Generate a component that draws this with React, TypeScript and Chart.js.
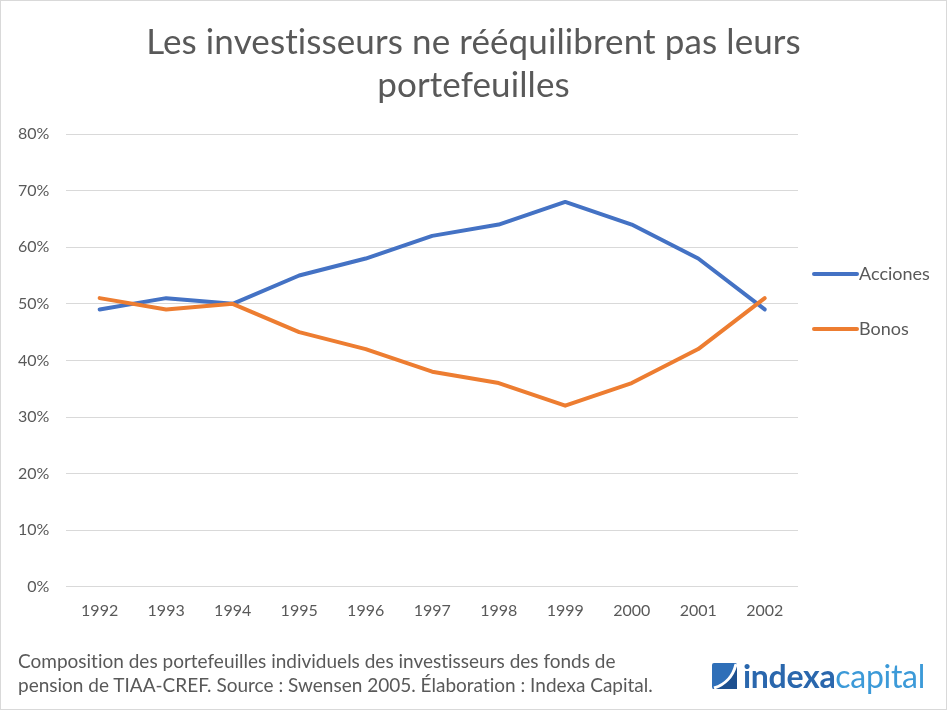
import React, { useEffect, useRef } from "react";
import { Chart, registerables } from "chart.js";

Chart.register(...registerables);

const years = ["1992", "1993", "1994", "1995", "1996", "1997", "1998", "1999", "2000", "2001", "2002"];
const acciones = [49, 51, 50, 55, 58, 62, 64, 68, 64, 58, 49];
const bonos = [51, 49, 50, 45, 42, 38, 36, 32, 36, 42, 51];
const seriesNames = ["Acciones", "Bonos"];
const seriesColors = ["#4472C4", "#ED7D31"];
const titleLines = ["Les investisseurs ne rééquilibrent pas leurs", "portefeuilles"];
const footnoteLines = [
  "Composition des portefeuilles individuels des investisseurs des fonds de",
  "pension de TIAA-CREF. Source : Swensen 2005. Élaboration : Indexa Capital.",
];

const FONT = "Lato, 'Open Sans', sans-serif";
const GREY = "#595959";

const sideLegend = {
  id: "sideLegend",
  afterDraw(chart: any) {
    const { ctx, chartArea } = chart;
    ctx.save();
    chart.data.datasets.forEach((ds: any, i: number) => {
      const y = chartArea.top + 140 + i * 55;
      const x0 = chartArea.right + 16;
      ctx.strokeStyle = ds.borderColor;
      ctx.lineWidth = 4;
      ctx.lineCap = "round";
      ctx.beginPath();
      ctx.moveTo(x0, y);
      ctx.lineTo(x0 + 43, y);
      ctx.stroke();
      ctx.fillStyle = GREY;
      ctx.font = `18px ${FONT}`;
      ctx.textBaseline = "middle";
      ctx.textAlign = "left";
      ctx.fillText(ds.label, x0 + 45, y);
    });
    ctx.restore();
  },
};

const centeredTitle = {
  id: "centeredTitle",
  afterDraw(chart: any) {
    const { ctx, width } = chart;
    ctx.save();
    ctx.fillStyle = GREY;
    ctx.font = `35px ${FONT}`;
    ctx.textAlign = "center";
    ctx.textBaseline = "middle";
    try {
      (ctx as any).letterSpacing = "0.1px";
    } catch (e) {}
    titleLines.forEach((t, i) => ctx.fillText(t, width / 2, 42 + i * 43));
    ctx.restore();
  },
};

export default function App() {
  const ref = useRef<HTMLCanvasElement>(null);
  useEffect(() => {
    if (!ref.current) return;
    const chart = new Chart(ref.current, {
      type: "line",
      data: {
        labels: years,
        datasets: [
          { label: seriesNames[0], data: acciones.map((v) => v / 100), borderColor: seriesColors[0], backgroundColor: seriesColors[0], order: 2 },
          { label: seriesNames[1], data: bonos.map((v) => v / 100), borderColor: seriesColors[1], backgroundColor: seriesColors[1], order: 1 },
        ],
      },
      options: {
        animation: false,
        responsive: false,
        devicePixelRatio: 1,
        layout: { padding: { left: 0, right: 148, top: 133, bottom: 75 } },
        elements: {
          line: { borderWidth: 4, tension: 0, borderCapStyle: "round", borderJoinStyle: "round" },
          point: { radius: 0, hoverRadius: 0 },
        },
        plugins: {
          legend: { display: false },
          tooltip: { enabled: false },
          title: { display: false },
        },
        scales: {
          x: {
            offset: true,
            grid: { display: false, drawTicks: false },
            border: { display: false },
            ticks: { color: GREY, font: { family: FONT, size: 16 }, padding: 14, maxRotation: 0 },
          },
          y: {
            min: 0,
            max: 0.8,
            grid: { color: "#d9d9d9", lineWidth: 1, drawTicks: false },
            border: { display: false },
            ticks: {
              stepSize: 0.1,
              color: GREY,
              font: { family: FONT, size: 16 },
              padding: 17,
              callback: (v: any) => Math.round(Number(v) * 100) + "%",
            },
          },
        },
      },
      plugins: [sideLegend, centeredTitle],
    });
    return () => chart.destroy();
  }, []);

  return (
    <div
      style={{
        position: "absolute",
        left: 0,
        top: 0,
        width: 945,
        height: 708,
        border: "1px solid #d9d9d9",
        background: "#fff",
        fontFamily: FONT,
        overflow: "hidden",
      }}
    >
      <canvas ref={ref} width={945} height={708} style={{ position: "absolute", left: 0, top: 0 }} />
      <div style={{ position: "absolute", left: 17, top: 648, color: GREY, fontSize: 19, lineHeight: "24px", fontVariantLigatures: "none" }}>
        {footnoteLines.map((l, i) => (
          <div key={i}>{l}</div>
        ))}
      </div>
      <div style={{ position: "absolute", left: 711, top: 658, display: "flex", alignItems: "center" }}>
        <svg width="25" height="26" viewBox="0 0 25 26">
          <rect x="0" y="0" width="25" height="26" rx="2" fill="#2f6fb8" />
          <path d="M0 26 C10 24 20 16 25 2 L25 26 Z" fill="#1d4f8f" />
          <path d="M2 25 C12 22 21 14 24 1" stroke="#fff" strokeWidth="3" fill="none" />
        </svg>
        <span style={{ marginLeft: 6, fontSize: 32, lineHeight: "34px", letterSpacing: -0.3 }}>
          <span style={{ color: "#2a67ad", fontWeight: 700 }}>indexa</span>
          <span style={{ color: "#3c9ad8", fontWeight: 400 }}>capital</span>
        </span>
      </div>
    </div>
  );
}
